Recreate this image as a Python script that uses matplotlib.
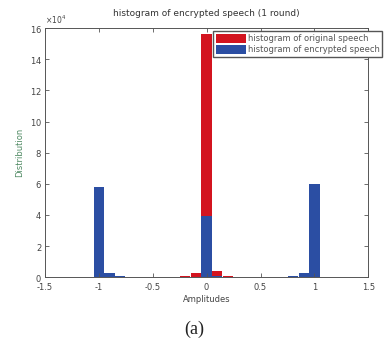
import matplotlib
matplotlib.use("Agg")
import matplotlib.pyplot as plt
import numpy as np

DPI = 100

# bin centres and counts
orig_centers = [-0.3, -0.2, -0.1, 0.0, 0.1, 0.2, 0.3]
orig_counts = [200, 500, 3000, 156000, 3800, 500, 200]

enc_centers = [-1.3, -1.2, -1.1, -1.0, -0.9, -0.8, -0.1, 0.0, 0.1, 0.8, 0.9, 1.0, 1.1]
enc_counts = [100, 150, 200, 58000, 2800, 500, 300, 39000, 600, 700, 3000, 60000, 300]

x_ticks = [-1.5, -1, -0.5, 0, 0.5, 1, 1.5]
x_labels = ["-1.5", "-1", "-0.5", "0", "0.5", "1", "1.5"]
y_ticks = np.arange(0, 17, 2) * 1e4

RED = "#d3141f"
BLUE = "#2b4ea3"

fig = plt.figure(figsize=(389 / DPI, 360 / DPI), dpi=DPI)
ax = fig.add_axes([0.115, 0.23, 0.832, 0.692])

ax.bar(orig_centers, orig_counts, width=0.095, color=RED, label="histogram of original speech")
ax.bar(enc_centers, enc_counts, width=0.095, color=BLUE, label="histogram of encrypted speech")

ax.set_xlim(-1.5, 1.5)
ax.set_ylim(0, 16e4)
ax.set_xticks(x_ticks)
ax.set_xticklabels(x_labels)
ax.set_yticks(y_ticks)
ax.ticklabel_format(axis="y", style="sci", scilimits=(4, 4), useMathText=True)
ax.yaxis.get_offset_text().set_fontsize(5.5)
ax.yaxis.get_offset_text().set_color("#555555")

ax.tick_params(direction="in", top=True, right=True, length=3, width=0.6,
               labelsize=6, colors="#555555", labelcolor="#444444", pad=2)
ax.tick_params(axis="x", pad=4)
for s in ax.spines.values():
    s.set_linewidth(0.7)
    s.set_color("#555555")

ax.set_title("histogram of encrypted speech (1 round)", fontsize=6.5, color="#333333", pad=9)
ax.set_xlabel("Amplitudes", fontsize=6, color="#444444", labelpad=2)
ax.set_ylabel("Distribution", fontsize=6, color="#4f8a63", labelpad=4)

ax.legend(loc="upper left", bbox_to_anchor=(213 / 389, 1 - 31 / 360),
          bbox_transform=fig.transFigure, fontsize=6, frameon=True, fancybox=False,
          edgecolor="#555555", framealpha=1, handlelength=3.6, handleheight=1.3,
          handletextpad=0.2, borderpad=0.35, labelspacing=0.2, labelcolor="#555555",
          borderaxespad=0)

fig.text(0.5, 0.085, "(a)", ha="center", va="center", fontsize=13,
         family="Liberation Serif", color="#222222")

fig.savefig("out.png", dpi=DPI)
